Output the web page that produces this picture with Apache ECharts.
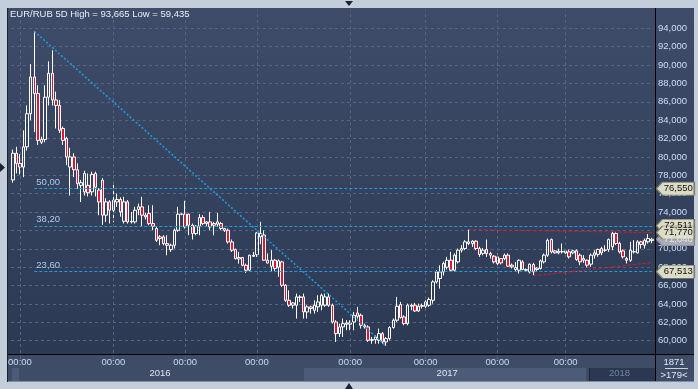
<!DOCTYPE html>
<html><head><meta charset="utf-8">
<script src="https://cdn.jsdelivr.net/npm/echarts/dist/echarts.min.js"></script>
<style>html,body{margin:0;padding:0;background:#c4cedb;}#c{width:698px;height:389px;}</style>
</head><body><div id="c"></div>
<script>
const titleText = 'EUR/RUB 5D High = 93,665 Low = 59,435';
const opens = [77.5,80.4,79.3,78.9,81.1,84.7,88.7,86.9,81.6,81.9,
86.5,89.1,86.2,85.6,83.1,82.0,78.9,80.0,78.6,76.9,
76.2,76.9,76.2,78.2,76.4,77.47,73.66,75.11,74.2,75.1,
75.37,73.0,75.11,72.93,72.93,74.28,74.57,73.66,73.84,72.75,
72.21,71.3,71.3,70.57,69.92,70.39,72.02,73.77,73.77,73.77,
72.57,71.66,72.46,73.4,72.93,72.93,72.57,72.68,72.75,72.21,
72.02,70.75,69.92,68.9,69.05,68.21,67.67,69.3,69.37,71.3,
71.5,68.76,68.1,68.76,68.0,68.58,66.04,64.4,63.86,63.86,
64.77,64.77,63.13,63.68,63.31,63.68,63.86,63.86,64.77,63.86,
62.04,60.77,61.5,61.94,61.79,62.04,63.02,62.77,61.68,61.5,
60.05,60.12,60.05,60.77,59.87,60.23,61.43,62.23,63.93,62.59,
61.86,63.86,63.86,63.24,63.75,63.75,63.86,64.4,66.4,66.77,
67.49,68.0,68.76,67.67,68.58,69.85,70.03,70.58,70.58,70.83,
70.03,69.5,69.93,69.49,69.2,68.4,68.94,68.94,69.31,68.22,
67.96,67.67,68.58,67.75,67.49,68.29,67.75,67.86,68.58,69.31,
71.01,69.78,69.56,69.67,69.56,69.67,69.56,69.78,69.31,68.94,
68.76,68.33,69.31,69.4,70.03,69.85,69.93,70.22,71.67,70.58,
69.78,68.94,68.76,69.67,69.56,70.76,70.4,70.76,70.9];
const closes = [80.4,79.3,78.9,81.1,84.7,88.7,86.9,81.8,81.9,86.5,
89.1,86.2,85.6,82.9,81.8,80.0,80.0,78.6,77.1,77.2,
78.2,76.1,78.1,76.7,75.1,73.66,75.11,74.2,75.29,75.37,
74.02,75.11,72.93,73.0,74.2,74.57,73.66,73.48,72.75,72.46,
70.93,71.12,70.57,70.39,70.39,72.02,73.77,73.8,72.39,72.57,
71.66,72.46,73.4,72.75,72.75,72.39,72.75,72.93,72.21,72.02,
70.75,69.85,68.94,69.05,68.21,67.67,69.3,69.19,71.73,71.67,
68.76,68.45,68.76,67.86,68.69,66.04,64.4,63.86,64.11,64.77,
64.7,63.13,63.68,63.5,63.86,64.22,64.95,64.77,63.86,62.04,
60.77,61.5,61.86,61.79,61.94,62.77,62.66,61.68,61.5,60.05,
60.12,60.41,60.77,59.87,60.23,61.43,62.23,63.75,62.52,61.86,
63.86,63.75,63.24,63.75,63.82,64.22,64.48,66.4,67.49,67.49,
68.4,68.76,67.67,69.31,69.85,70.03,70.76,70.76,70.83,70.03,
69.38,69.85,69.49,69.31,68.58,69.13,68.47,69.31,68.11,68.04,
67.75,68.76,67.75,67.67,68.33,67.49,67.9,68.69,69.31,70.94,
69.67,69.56,69.74,69.7,69.78,69.13,69.78,68.84,68.58,68.76,
68.22,69.31,69.56,69.93,69.56,69.85,71.01,71.67,70.58,69.67,
69.13,68.76,69.85,69.7,70.76,70.47,70.94,71.12,71.04];
const lows = [77.2,78.2,78.1,77.8,80.7,84.0,82.7,81.3,81.4,81.6,
85.6,85.6,83.1,82.6,81.3,79.1,75.8,77.8,76.5,75.1,
75.8,75.7,75.8,75.7,73.66,72.6,72.93,72.75,72.9,74.57,
73.5,72.75,72.75,72.75,72.75,73.66,72.39,73.19,72.57,72.02,
70.75,70.39,70.39,69.3,69.66,70.03,71.84,73.66,72.21,71.48,
71.01,71.48,71.48,72.57,72.39,72.02,71.48,72.39,72.02,71.84,
70.57,69.66,68.83,68.39,68.1,67.38,67.56,69.12,69.12,70.5,
68.7,68.4,67.49,67.6,66.95,65.86,64.23,63.68,63.5,62.41,
64.22,62.41,62.41,62.95,62.95,63.13,63.31,63.68,63.68,61.86,
59.87,60.41,60.41,61.14,61.14,61.14,62.41,61.32,61.32,59.87,
59.68,59.68,59.68,59.68,59.435,60.05,61.32,62.04,62.41,61.68,
61.68,63.31,63.13,63.13,63.5,63.5,63.68,64.04,66.22,65.68,
67.1,67.75,67.5,67.5,68.4,69.6,69.85,70.4,70.22,69.85,
69.13,69.3,69.13,68.94,68.4,68.22,68.3,68.76,68.04,67.86,
67.49,67.31,67.67,67.57,67.31,67.13,67.6,67.75,68.4,69.13,
69.49,69.49,69.4,69.49,69.45,68.94,69.4,68.69,68.22,68.47,
67.96,68.04,68.94,69.13,69.31,69.67,69.67,69.85,70.4,69.49,
68.94,68.4,68.58,69.49,69.49,70.03,70.03,70.58,70.6];
const highs = [80.8,81.1,80.3,82.9,85.6,90.1,93.665,87.8,82.2,87.8,
90.4,91.6,87.1,86.2,83.3,82.2,81.0,80.4,79.3,77.5,
78.5,78.2,78.4,78.4,76.6,77.7,75.5,75.3,77.29,76.02,
75.6,75.66,75.3,74.0,74.57,74.93,75.66,73.91,74.75,74.75,
72.39,71.48,71.48,71.48,70.57,72.21,74.57,73.84,75.22,73.84,
72.75,72.57,73.77,73.66,73.0,74.02,72.93,73.91,72.93,72.21,
72.21,71.01,70.03,69.66,69.12,68.39,69.37,69.66,71.84,72.94,
72.0,69.5,69.85,68.9,68.84,68.7,66.15,65.49,64.22,65.13,
64.95,65.13,63.86,63.82,64.4,64.95,65.13,65.13,65.13,64.04,
62.23,61.86,62.41,62.23,62.23,63.13,63.68,62.95,61.86,61.68,
60.41,60.59,61.32,60.95,60.41,61.57,62.41,64.77,64.22,62.77,
64.04,64.04,64.11,64.04,64.04,64.4,64.7,66.58,67.67,68.2,
68.6,69.13,69.67,69.5,70.03,70.4,70.94,72.1,70.94,70.94,
70.22,70.1,71.01,69.67,69.31,69.49,69.0,69.49,69.49,68.4,
68.58,68.84,68.76,67.86,68.4,68.47,68.0,68.84,69.49,71.12,
71.12,69.85,70.03,70.58,69.9,69.93,69.9,69.93,69.49,69.31,
68.84,69.49,69.85,70.03,70.22,70.4,71.12,71.85,71.85,70.76,
69.93,69.13,70.76,70.94,70.94,70.87,71.12,71.6,71.2];
const categories = opens.map((_, i) => 'b' + i);

const timeTickIdx = [2, 28, 48, 68, 94, 115, 135, 154];
const timeTickLabels = ['00:00','00:00','00:00','00:00','00:00','00:00','00:00','00:00'];
const yearTickIdx = [41, 121, 169];
const yearLabels = ['2016', '2017', '2018'];

const highIdx = 6, highVal = 93.665, lowIdx = 104, lowVal = 59.435;
const fibLevels = [76.55, 72.511, 67.513];
const fibLabels = ['50,00', '38,20', '23,60'];
const channelUpper = [[127, 72.1], [178, 71.77]];
const channelLower = [[145, 67.05], [178, 68.51]];
const tagValues = [76.55, 72.511, 67.513, 71.04, 71.77];
const tagKinds = ['fib', 'fib', 'fib', 'last', 'chan'];

const lastIdx = categories.length - 1;
const fmt = v => v.toFixed(3).replace('.', ',');
const ohlc = opens.map((o, i) => [o, closes[i], lows[i], highs[i]]);

const blue = '#1b9ee4';
const markLines = [];
fibLevels.forEach((v, k) => {
  markLines.push([
    {coord: [highIdx, v], lineStyle: {color: blue, type: [3, 2], width: 1},
     label: {show: true, formatter: fibLabels[k], position: 'insideStartTop', color: '#a9caf2', fontSize: 9.5, distance: [2, 1]}},
    {coord: [lastIdx, v]}
  ]);
});
markLines.push([{coord: [highIdx, highVal], lineStyle: {color: blue, type: [2, 2], width: 1.5}}, {coord: [lowIdx, lowVal]}]);
[channelUpper, channelLower].forEach(c => {
  markLines.push([{coord: c[0], lineStyle: {color: '#e0142a', type: [3, 2], width: 1}}, {coord: c[1]}]);
});

const tagPath = 'path://M0,6.5L6,0L38,0L38,13L6,13Z';
const markPoints = tagValues.map((v, k) => ({
  coord: [lastIdx, v],
  symbolOffset: [23.5, 0],
  itemStyle: tagKinds[k] === 'last' ? {color: '#a9aeb6', borderColor: '#8a9098', borderWidth: 1}
                                     : {color: '#dcdbc6', borderColor: '#7e7e6a', borderWidth: 1},
  label: {show: true, position: 'inside', offset: [3, 0], formatter: fmt(v), fontSize: 9.5,
          color: tagKinds[k] === 'last' ? '#e4e7ec' : '#111111'}
}));

const chart = echarts.init(document.getElementById('c'), null, {renderer: 'canvas'});
const grad = new echarts.graphic.LinearGradient(0, 0, 0, 1, [{offset: 0, color: '#3f4c69'}, {offset: 1, color: '#2c3953'}]);
chart.setOption({
  animation: false,
  backgroundColor: '#c4cedb',
  textStyle: {fontFamily: '"Liberation Sans", Arial, sans-serif'},
  title: {text: titleText, left: 10, top: 9.5, padding: 0, z: 20,
          textStyle: {color: '#e8eef7', fontSize: 9.5, fontWeight: 'normal', fontFamily: '"Liberation Sans", Arial, sans-serif'}},
  grid: {left: 11, right: 44.4, top: 9.9, bottom: 29.9, containLabel: false, outerBoundsMode: 'none'},
  xAxis: {type: 'category', data: categories, boundaryGap: true, offset: -5.1, z: 10,
     axisLine: {show: false}, axisTick: {show: false}, splitLine: {show: false},
     axisLabel: {interval: i => timeTickIdx.includes(i) || yearTickIdx.includes(i), margin: 3,
                 color: '#c9dbf4', fontSize: 9.5, lineHeight: 11,
                 rich: {yr: {color: '#dfe6f0', fontSize: 9.5, lineHeight: 11}, dim: {color: '#75839b', fontSize: 9.5, lineHeight: 11}},
                 formatter: (v, i) => {
                   const k = timeTickIdx.indexOf(i);
                   if (k >= 0) return timeTickLabels[k];
                   const y = yearTickIdx.indexOf(i);
                   if (y < 0) return '';
                   return ' \n{' + (y === yearLabels.length - 1 ? 'dim' : 'yr') + '|' + yearLabels[y] + '}';
                 }}},
  yAxis: {type: 'value', position: 'right', min: 58, max: 96, interval: 2, z: 0,
          axisLine: {show: false}, axisTick: {show: false},
          splitLine: {show: true, lineStyle: {color: '#56657f', type: [3, 3], width: 1}},
          axisLabel: {margin: 4.4, color: '#cfdff6', fontSize: 9.5, formatter: v => (v <= 58 || v >= 96) ? '' : fmt(v)}},
  series: [
    {type: 'line', data: [], z: 1, silent: true,
     markLine: {silent: true, animation: false, symbol: ['none', 'none'], label: {show: false},
                lineStyle: {color: '#56657f', type: [3, 3], width: 1},
                data: timeTickIdx.map(i => ({xAxis: i}))}},
    {type: 'candlestick', data: ohlc, barWidth: 3, z: 4, silent: true,
     itemStyle: {color: 'rgba(0,0,0,0)', color0: '#e5142e', borderColor: '#ffffff', borderColor0: '#ffffff', borderColorDoji: '#ffffff', borderWidth: 1},
     markLine: {silent: true, animation: false, symbol: ['none', 'none'], label: {show: false}, data: markLines},
     markPoint: {silent: true, animation: false, symbol: tagPath, symbolSize: [38, 13], symbolKeepAspect: false, data: markPoints}}
  ],
  graphic: {elements: [
    {type: 'rect', shape: {x: 8, y: 8, width: 686, height: 347}, style: {fill: grad}, z: -90, silent: true},
    {type: 'rect', shape: {x: 8, y: 8, width: 647, height: 3}, style: {fill: '#3f4c69'}, z: 1.5, silent: true},
    {type: 'rect', shape: {x: 8, y: 355, width: 686, height: 26.5}, style: {fill: '#3e4c67'}, z: 3, silent: true},
    {type: 'rect', shape: {x: 12, y: 368, width: 7, height: 13}, style: {fill: '#4b5b78'}, z: 3.1, silent: true},
    {type: 'rect', shape: {x: 304, y: 368, width: 282, height: 13}, style: {fill: '#4b5b78'}, z: 3.1, silent: true},
    {type: 'rect', shape: {x: 590, y: 368, width: 65, height: 13}, style: {fill: '#2c3852'}, z: 3.1, silent: true},
    {type: 'line', shape: {x1: 589.5, y1: 368, x2: 589.5, y2: 381}, style: {stroke: '#1f283a', lineWidth: 1}, z: 3.2, silent: true},
    {type: 'line', shape: {x1: 8, y1: 354.5, x2: 694, y2: 354.5}, style: {stroke: '#000000', lineWidth: 1}, z: 12, silent: true},
    {type: 'line', shape: {x1: 655.5, y1: 8, x2: 655.5, y2: 381}, style: {stroke: '#000000', lineWidth: 1}, z: 12, silent: true},
    {type: 'line', shape: {x1: 7.5, y1: 8, x2: 7.5, y2: 382}, style: {stroke: '#1a2130', lineWidth: 1}, z: 12, silent: true},
    {type: 'line', shape: {x1: 665, y1: 368.5, x2: 688, y2: 368.5}, style: {stroke: '#c8d3e0', lineWidth: 1}, z: 12, silent: true},
    {type: 'text', style: {text: '1871', x: 674, y: 362, fill: '#dfe7f2', font: '9.5px "Liberation Sans", Arial', align: 'center', verticalAlign: 'middle'}, z: 12, silent: true},
    {type: 'text', style: {text: '>179<', x: 674, y: 375.5, fill: '#dfe7f2', font: '9.5px "Liberation Sans", Arial', align: 'center', verticalAlign: 'middle'}, z: 12, silent: true},
    {type: 'polygon', shape: {points: [[345, 1], [353, 1], [349, 6]]}, style: {fill: '#1b2233'}, z: 12, silent: true},
    {type: 'polygon', shape: {points: [[345, 389], [353, 389], [349, 383]]}, style: {fill: '#1b2233'}, z: 12, silent: true},
    {type: 'polygon', shape: {points: [[0, 163], [0, 172], [5, 167.5]]}, style: {fill: '#1b2233'}, z: 12, silent: true}
  ]}
});
</script></body></html>
